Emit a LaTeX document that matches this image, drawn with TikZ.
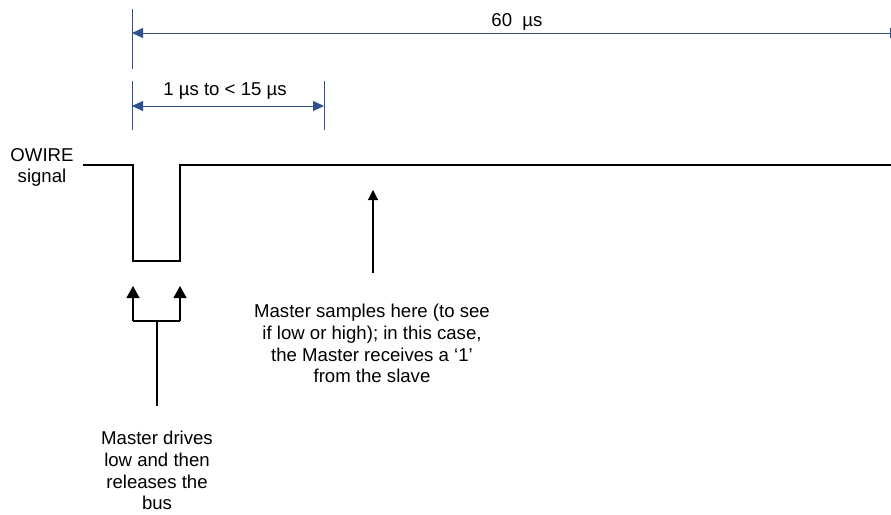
\documentclass[tikz,border=0pt]{standalone}
\usepackage{fontspec}
\setmainfont{Liberation Sans}
\usetikzlibrary{arrows.meta}
\definecolor{dimblue}{RGB}{47,82,143}
\tikzset{
  dimline/.style={draw=dimblue, line width=1pt},
  dimarrow/.style={dimline, {Triangle[width=10pt,length=11pt]}-{Triangle[width=10pt,length=11pt]}},
  sig/.style={draw=black, line width=2pt, line join=miter},
  bigarrow/.style={draw=black, line width=1.3pt, -{Triangle[width=13pt,length=12pt]}},
  smallarrow/.style={draw=black, line width=1.1pt, -{Triangle[width=10pt,length=10pt]}},
  lbl/.style={inner sep=0pt, font=\fontsize{18.6}{21.7}\selectfont, align=center},
}
\begin{document}
\begin{tikzpicture}[x=1pt,y=-1pt]
\clip (0,0) rectangle (891,514);
\fill[white] (0,0) rectangle (891,514);
% dimension ticks
\coordinate (t1a) at (132,9);
\coordinate (t1b) at (132,69);
\coordinate (t2a) at (132,81);
\coordinate (t2b) at (132,130);
\coordinate (t3a) at (324,81);
\coordinate (t3b) at (324,130);
\draw[dimline] (t1a) -- (t1b);
\draw[dimline] (t2a) -- (t2b);
\draw[dimline] (t3a) -- (t3b);
% 60 us
\coordinate (d1l) at (132,33);
\coordinate (d1r) at (901,33);
\draw[dimarrow] (d1l) -- (d1r);
\node[lbl, anchor=base] (l60) at (517,27) {60~ µs};
% 1 us to < 15 us
\coordinate (d2l) at (132,106);
\coordinate (d2r) at (324,106);
\draw[dimarrow] (d2l) -- (d2r);
\node[lbl, anchor=base] (l15) at (225,95) {1 µs to < 15 µs};
% signal
\node[lbl, anchor=north] (owire) at (42,148) {OWIRE\\signal};
\coordinate (s0) at (83,165);
\coordinate (s1) at (133,165);
\coordinate (s2) at (133,261);
\coordinate (s3) at (180,261);
\coordinate (s4) at (180,165);
\coordinate (s5) at (900,165);
\draw[sig] (s0) -- (s1) -- (s2) -- (s3) -- (s4) -- (s5);
% drive/release arrows
\coordinate (bl) at (133,321);
\coordinate (br) at (180,321);
\coordinate (bm) at (157,321);
\coordinate (bs) at (157,406);
\coordinate (tl) at (133,286);
\coordinate (tr) at (180,286);
\draw[black, line width=1.3pt] (bl) -- (br);
\draw[bigarrow] (bl) -- (tl);
\draw[bigarrow] (br) -- (tr);
\draw[black, line width=1.3pt] (bm) -- (bs);
\node[lbl, anchor=north] (drv) at (157,431) {Master drives\\low and then\\releases the\\bus};
% sample arrow
\coordinate (sa) at (373,273);
\coordinate (sb) at (373,190);
\draw[smallarrow] (sa) -- (sb);
\node[lbl, anchor=north] (smp) at (372,304) {Master samples here (to see\\if low or high); in this case,\\the Master receives a ‘1’\\from the slave};
\end{tikzpicture}
\end{document}
